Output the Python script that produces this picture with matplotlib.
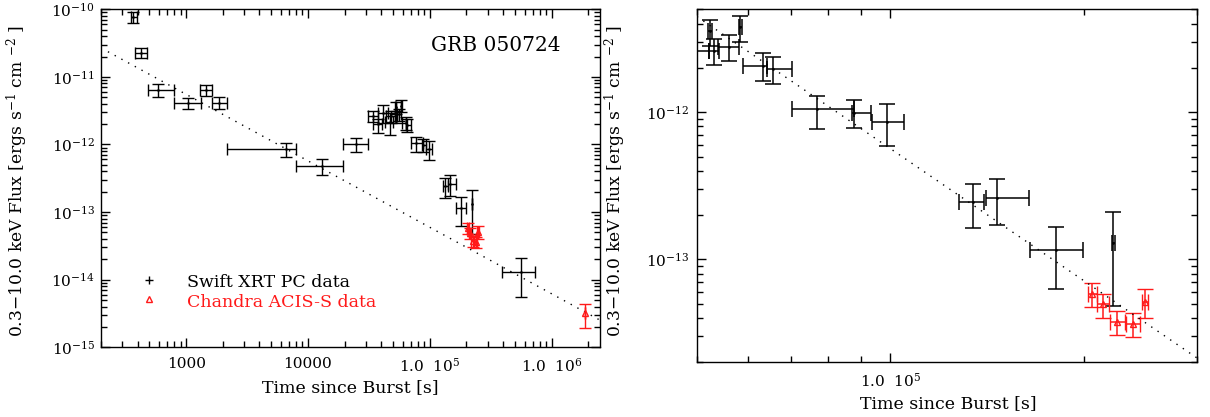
import math
import matplotlib
matplotlib.use('Agg')
import matplotlib.pyplot as plt
from matplotlib.ticker import FixedLocator, FuncFormatter, NullFormatter

# ---------------- data ----------------
# Swift XRT PC data: time since burst [s] and 0.3-10 keV flux [erg s^-1 cm^-2]
xrt_t = [368, 424, 591, 1042, 1456, 1862, 6605, 12970, 24810,
         34410, 37400, 41560, 47180, 48000,
         52400, 53200, 58400, 56000, 63340, 65660, 76800, 87770, 98900,
         134200, 146500, 181100, 222400, 561000]
xrt_t_lo = [18, 44, 107, 243, 156, 222, 4450, 4990, 5300,
            3450, 3000, 3900, 4250, 4100,
            400, 980, 310, 2080, 4440, 1460, 6570, 730, 5370,
            6200, 5800, 16200, 1500, 171000]
xrt_t_hi = [25, 56, 209, 282, 184, 291, 1330, 6540, 6150,
            3410, 2930, 4120, 2700, 4200,
            400, 860, 310, 2130, 860, 4570, 11050, 5520, 6100,
            5800, 18000, 18000, 1500, 170000]
xrt_f = [7.77e-11, 2.24e-11, 6.40e-12, 4.15e-12, 6.40e-12, 4.15e-12, 8.49e-13, 4.86e-13, 1.007e-12,
         2.64e-12, 1.99e-12, 2.89e-12, 2.18e-12, 2.62e-12,
         3.54e-12, 2.62e-12, 3.77e-12, 2.79e-12, 2.07e-12, 1.97e-12, 1.05e-12, 9.9e-13, 8.6e-13,
         2.45e-13, 2.62e-13, 1.15e-13, 1.30e-13, 1.29e-14]
xrt_f_lo = [1.44e-11, 0.36e-11, 1.31e-12, 0.83e-12, 1.18e-12, 0.83e-12, 1.89e-13, 1.32e-13, 2.25e-13,
            0.465e-12, 0.526e-12, 0.79e-12, 0.79e-12, 0.52e-12,
            0.741e-12, 0.514e-12, 0.79e-12, 0.549e-12, 0.432e-12, 0.418e-12, 0.277e-12, 0.215e-12, 0.27e-12,
            0.828e-13, 0.912e-13, 0.52e-13, 0.819e-13, 0.74e-14]
xrt_f_hi = [1.44e-11, 0.41e-11, 1.45e-12, 0.77e-12, 1.19e-12, 0.94e-12, 2.14e-13, 1.18e-13, 2.28e-13,
            0.52e-12, 0.37e-12, 0.95e-12, 0.715e-12, 0.52e-12,
            0.705e-12, 0.526e-12, 0.747e-12, 0.574e-12, 0.443e-12, 0.417e-12, 0.248e-12, 0.218e-12, 0.269e-12,
            0.782e-13, 0.892e-13, 0.522e-13, 0.807e-13, 0.78e-14]

# Chandra ACIS-S data
acis_t = [206200, 214500, 225500, 238800, 249000, 1.88e6]
acis_t_err = [3500, 4700, 6000, 6000, 2900, 0]
acis_f = [5.79e-14, 4.95e-14, 3.77e-14, 3.64e-14, 5.16e-14, 3.18e-15]
acis_f_lo = [1.06e-14, 0.94e-14, 0.71e-14, 0.68e-14, 1.14e-14, 1.27e-15]
acis_f_hi = [1.09e-14, 0.87e-14, 0.71e-14, 0.66e-14, 1.16e-14, 1.14e-15]

# dotted power-law fits (end points)
fit_all_t = [228, 2.5e6]
fit_all_f = [2.36e-11, 2.52e-15]
fit_flare_t = [5.0e4, 3.0e5]
fit_flare_f = [4.46e-12, 2.14e-14]

title = 'GRB 050724'
xlabel = 'Time since Burst [s]'
ylabel = r'0.3$-$10.0 keV Flux [ergs s$^{-1}$ cm $^{-2}$ ]'
legend_labels = ['Swift XRT PC data', 'Chandra ACIS-S data']
x_tick_labels = {1e3: '1000', 1e4: '10000', 1e5: r'1.0  10$^{5}$', 1e6: r'1.0  10$^{6}$'}

# ---------------- figure ----------------
plt.rcParams['font.family'] = ['DejaVu Serif']
plt.rcParams['mathtext.fontset'] = 'dejavuserif'

RED = '#ff1a1a'
fig = plt.figure(figsize=(12.1, 4.17), dpi=100)
ax1 = fig.add_axes([0.08347, 0.16715, 0.41240, 0.81055])
ax2 = fig.add_axes([0.57603, 0.13118, 0.41322, 0.84652])


def draw(ax, capsize, lw):
    ax.errorbar(xrt_t, xrt_f, xerr=[xrt_t_lo, xrt_t_hi], yerr=[xrt_f_lo, xrt_f_hi],
                fmt='.', ms=1.8, color='black', ecolor='black', elinewidth=lw,
                capsize=capsize, capthick=lw)
    ax.errorbar(acis_t, acis_f, xerr=acis_t_err, yerr=[acis_f_lo, acis_f_hi],
                fmt='^', ms=4.5, mfc='none', mec=RED, mew=1.0, color=RED, ecolor=RED,
                elinewidth=lw, capsize=capsize, capthick=lw)


def log_ticks(lo, hi):
    """Major (decades) and minor (2..9 x decade) tick values inside [lo, hi]."""
    major, minor = [], []
    for e in range(int(math.floor(math.log10(lo))), int(math.ceil(math.log10(hi))) + 1):
        for m in range(1, 10):
            v = m * 10.0 ** e
            if lo * (1 - 1e-9) <= v <= hi * (1 + 1e-9):
                (major if m == 1 else minor).append(v)
    return major, minor


def style(ax, xlim, ylim):
    ax.set_xscale('log')
    ax.set_yscale('log')
    ax.set_xlim(*xlim)
    ax.set_ylim(*ylim)
    ax.tick_params(which='both', direction='in', top=True, right=True, width=1.0,
                   labelsize=11)
    ax.tick_params(which='major', length=6.5)
    ax.tick_params(which='minor', length=4)
    ax.tick_params(axis='x', pad=7)
    xmaj, xmin = log_ticks(*xlim)
    ymaj, ymin = log_ticks(*ylim)
    ax.xaxis.set_major_locator(FixedLocator(xmaj))
    ax.xaxis.set_minor_locator(FixedLocator(xmin))
    ax.yaxis.set_major_locator(FixedLocator(ymaj))
    ax.yaxis.set_minor_locator(FixedLocator(ymin))
    ax.xaxis.set_minor_formatter(NullFormatter())
    ax.yaxis.set_minor_formatter(NullFormatter())
    ax.xaxis.set_major_formatter(FuncFormatter(xfmt))
    ax.yaxis.set_major_formatter(FuncFormatter(yfmt))
    for s in ax.spines.values():
        s.set_linewidth(1.0)


def xfmt(v, pos):
    for k, lab in x_tick_labels.items():
        if abs(v / k - 1) < 1e-6:
            return lab
    return ''


def yfmt(v, pos):
    e = int(round(math.log10(v)))
    return r'10$^{%d}$' % e


# left panel
draw(ax1, 4.0, 1.0)
ax1.plot(fit_all_t, fit_all_f, color='black', lw=1.0, ls=(0, (1, 4.5)))
style(ax1, (200, 2.5e6), (1e-15, 1e-10))
ax1.tick_params(axis='y', pad=4.5)
ax1.set_xlabel(xlabel, fontsize=12.5)
ax1.xaxis.set_label_coords(0.5, -0.094)
ax1.xaxis.label.set_va('top')
ax1.text(0.92, 0.893, title, transform=ax1.transAxes, ha='right', va='center', fontsize=14.5)

# manual legend
ax1.plot([0.0968], [0.199], marker='+', ms=6, mew=1.0, color='black', transform=ax1.transAxes)
ax1.plot([0.0968], [0.143], marker='^', ms=4.5, mfc='none', mec=RED, mew=1.0,
         transform=ax1.transAxes)
ax1.text(0.1717, 0.179, legend_labels[0], transform=ax1.transAxes, ha='left',
         va='baseline', fontsize=12.5, color='black')
ax1.text(0.1717, 0.120, legend_labels[1], transform=ax1.transAxes, ha='left',
         va='baseline', fontsize=12.5, color=RED)

# right panel (zoom on the flare)
draw(ax2, 5.5, 1.1)
ax2.plot(fit_flare_t, fit_flare_f, color='black', lw=1.0, ls=(0, (1, 4.5)))
style(ax2, (5e4, 3e5), (2e-14, 5e-12))
ax2.tick_params(axis='y', pad=6)
ax2.set_xlabel(xlabel, fontsize=12.5)
ax2.xaxis.set_label_coords(0.503, -0.093)
ax2.xaxis.label.set_va('top')

# y labels
fig.text(0.0145, 0.566, ylabel, rotation=90, ha='center', va='center', fontsize=12.3)
fig.text(0.509, 0.566, ylabel, rotation=90, ha='center', va='center', fontsize=12.3)

fig.savefig('out.png', dpi=100)
